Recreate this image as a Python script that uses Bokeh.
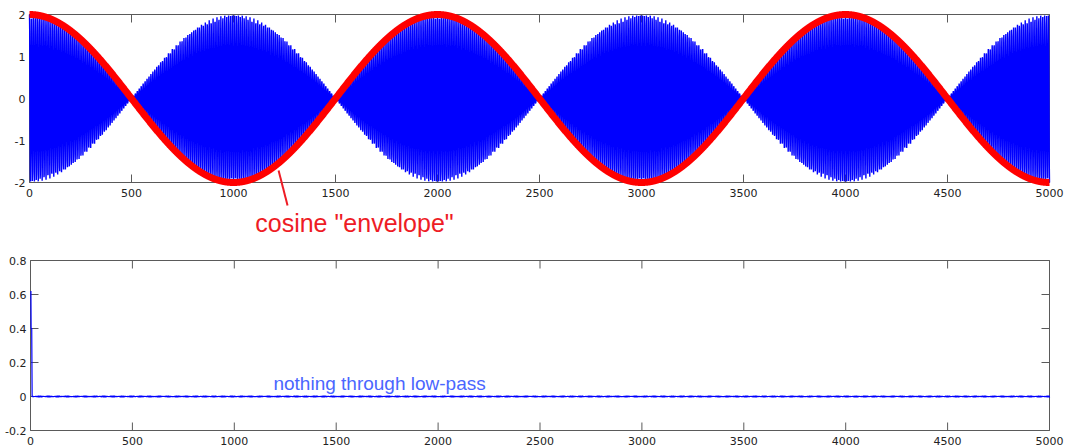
import numpy as np
from bokeh.plotting import figure
from bokeh.layouts import column
from bokeh.models import Range1d, Label
from bokeh.embed import file_html
from bokeh.resources import INLINE

# ---- data ----
n_samples = 5000
env_amplitude = 2.0          # peak of the cosine envelope
env_period = 2000            # samples per envelope cycle
carrier_freq = 0.105         # cycles per sample of the fast oscillation
x_ticks = [0, 500, 1000, 1500, 2000, 2500, 3000, 3500, 4000, 4500, 5000]
top_y_ticks = [-2, -1, 0, 1, 2]
bot_y_ticks = [-0.2, 0, 0.2, 0.4, 0.6, 0.8]
spike_x = [2, 3, 6, 8]
spike_y = [0.62, 0.40, 0.40, 0.0]
ripple_amplitude = 0.006
# annotation placement (data units of each panel)
env_label_pos = (1593, -2.976)
env_pointer_x = [1221, 1265]
env_pointer_y = [-1.714, -2.548]
lp_label_pos = (1192, 0.077)

n = np.arange(n_samples + 1)
envelope = env_amplitude * np.cos(2 * np.pi * n / env_period)
signal = envelope * np.cos(2 * np.pi * carrier_freq * n)
rip_n = np.arange(8, n_samples + 1)
ripple = ripple_amplitude * np.cos(2 * np.pi * 0.37 * rip_n) * np.cos(2 * np.pi * rip_n / 90)
low_x = np.concatenate([spike_x, rip_n])
low_y = np.concatenate([spike_y, ripple])

FONT = "DejaVu Sans"
AX = "#5a5a5a"
LBL = "#222222"
TICK = 8
W = 1065


def panel(height, left_px, right_px, top_px, bottom_px, yticks):
    """Figure whose frame is the whole canvas; the axes box, ticks and labels are drawn
    through the figure's own scales so text may sit anywhere on the canvas."""
    x0, x1 = x_ticks[0], x_ticks[-1]
    y0, y1 = yticks[0], yticks[-1]
    xs = (x1 - x0) / (right_px - left_px)
    ys = (y1 - y0) / (bottom_px - top_px)
    p = figure(width=W, height=height, output_backend="svg", toolbar_location=None,
               x_range=Range1d(x0 - left_px * xs, x1 + (W - right_px) * xs),
               y_range=Range1d(y1 - (height - top_px) * ys, y1 + top_px * ys),
               x_axis_location=None, y_axis_location=None, min_border=0)
    p.outline_line_color = None
    p.grid.grid_line_color = None
    p.background_fill_color = "white"
    p.border_fill_color = "white"
    nx, ny = len(x_ticks), len(yticks)
    p.rect(x=(x0 + x1) / 2, y=(y0 + y1) / 2, width=x1 - x0, height=y1 - y0,
           fill_color=None, line_color=AX, line_width=1)
    p.segment(x0=x_ticks, y0=[y0] * nx, x1=x_ticks, y1=[y0 + TICK * ys] * nx, line_color=AX)
    p.segment(x0=x_ticks, y0=[y1] * nx, x1=x_ticks, y1=[y1 - TICK * ys] * nx, line_color=AX)
    p.segment(x0=[x0] * ny, y0=yticks, x1=[x0 + TICK * xs] * ny, y1=yticks, line_color=AX)
    p.segment(x0=[x1] * ny, y0=yticks, x1=[x1 - TICK * xs] * ny, y1=yticks, line_color=AX)
    p.text(x=x_ticks, y=[y0] * nx, text=[str(t) for t in x_ticks], y_offset=6,
           text_align="center", text_baseline="top", text_font={"value": FONT},
           text_font_size="11px", text_color=LBL)
    p.text(x=[x0] * ny, y=yticks, text=["%g" % t for t in yticks],
           x_offset=-4, text_align="right", text_baseline="middle", text_font={"value": FONT},
           text_font_size="11px", text_color=LBL)
    return p


# ---------- top panel ----------
p1 = panel(256, 29, 1049, 14, 182, top_y_ticks)
p1.line(n, signal, line_color="#0000FF", line_width=1.4)
p1.line(n, envelope, line_color="#FF0000", line_width=7)
p1.line(env_pointer_x, env_pointer_y, line_color="#EE1C25", line_width=2)
p1.add_layout(Label(x=env_label_pos[0], y=env_label_pos[1], text='cosine "envelope"',
                    text_font="Liberation Sans", text_font_size="25px", text_color="#EE1C25",
                    text_align="center", text_baseline="alphabetic"))

# ---------- bottom panel ----------
p2 = panel(190, 30, 1049, 4, 174, bot_y_ticks)
p2.line(low_x, low_y, line_color="#0000FF", line_width=1.2)
p2.add_layout(Label(x=lp_label_pos[0], y=lp_label_pos[1], text="nothing through low-pass",
                    text_font="Liberation Sans", text_font_size="19px", text_color="#4A66FF",
                    text_align="left", text_baseline="alphabetic"))

layout = column(p1, p2, spacing=0)
open("out.html", "w").write(file_html(layout, INLINE))
